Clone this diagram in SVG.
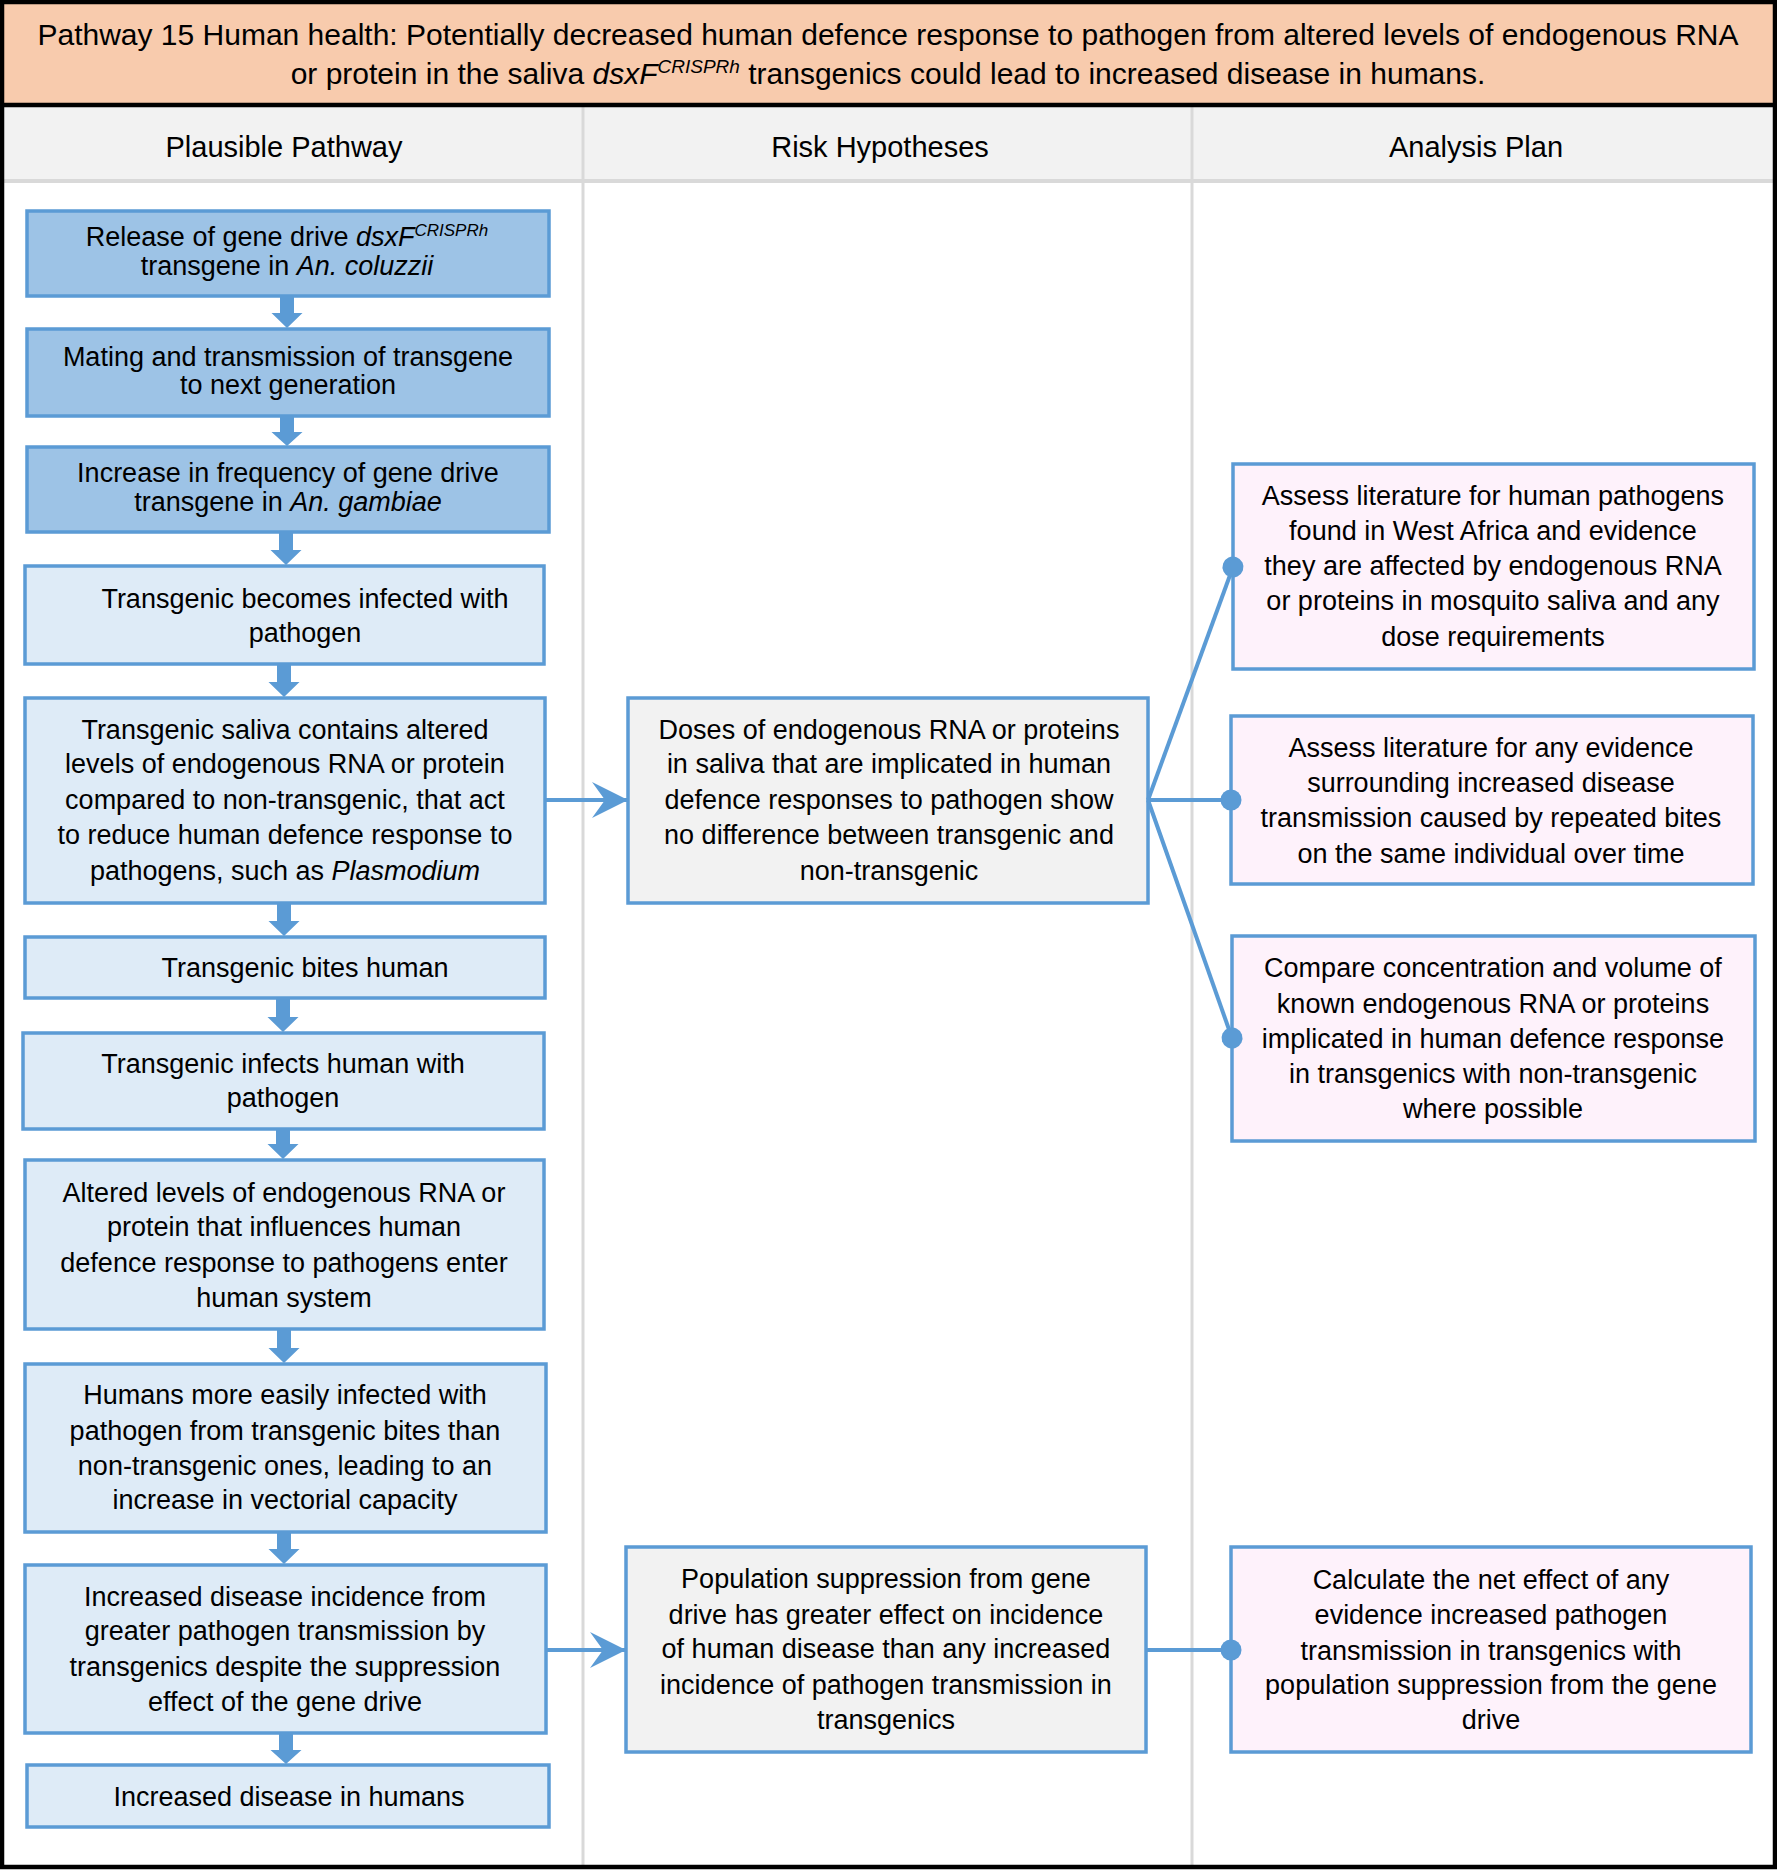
<svg xmlns="http://www.w3.org/2000/svg" width="1777" height="1870" viewBox="0 0 1777 1870">
<defs>
<style>
text{font-family:"Liberation Sans",Arial,sans-serif;fill:#000;}
.t{font-size:27px;text-anchor:middle;}
.hd{font-size:29px;text-anchor:middle;}
.ti{font-size:30px;text-anchor:middle;}
.i{font-style:italic;}
.dk{fill:#9DC3E6;stroke:#5B9BD5;stroke-width:3.5;}
.lt{fill:#DEEBF7;stroke:#5B9BD5;stroke-width:3.5;}
.gr{fill:#F2F2F2;stroke:#5B9BD5;stroke-width:3.5;}
.pk{fill:#FEF2FB;stroke:#5B9BD5;stroke-width:3.5;}
.ln{stroke:#5B9BD5;stroke-width:4;fill:none;}
.ba{fill:#5B9BD5;stroke:none;}
.grid{stroke:#D9D9D9;fill:none;}
</style>
<marker id="arr" markerUnits="userSpaceOnUse" markerWidth="36" markerHeight="36" refX="36" refY="18" orient="auto" viewBox="0 0 36 36">
<path d="M0,0 L36,18 L0,36 L13,18 Z" fill="#5B9BD5"/>
</marker>
<marker id="dot" markerUnits="userSpaceOnUse" markerWidth="24" markerHeight="24" refX="12" refY="12" orient="auto" viewBox="0 0 24 24">
<circle cx="12" cy="12" r="10.5" fill="#5B9BD5"/>
</marker>
</defs>

<g id="table">
<rect x="0" y="0" width="1777" height="1870" fill="#FFFFFF"/>
<rect x="0" y="0" width="1777" height="105" fill="#F8CBAD"/>
<rect x="0" y="107" width="1777" height="74" fill="#F2F2F2"/>
<line class="grid" x1="0" y1="181" x2="1777" y2="181" stroke-width="4"/>
<line class="grid" x1="583" y1="107" x2="583" y2="1866" stroke-width="3"/>
<line class="grid" x1="1192" y1="107" x2="1192" y2="1866" stroke-width="3"/>
<line x1="0" y1="105" x2="1777" y2="105" stroke="#000" stroke-width="4.5"/>
<rect x="2" y="2" width="1773" height="1865" fill="none" stroke="#000" stroke-width="4.5"/>
<text class="ti" x="888" y="45">Pathway 15 Human health: Potentially decreased human defence response to pathogen from altered levels of endogenous RNA</text>
<text class="ti" x="888" y="84">or protein in the saliva <tspan class="i">dsxF</tspan><tspan class="i" font-size="19" dy="-11">CRISPRh</tspan><tspan dy="11"> transgenics could lead to increased disease in humans.</tspan></text>
<text class="hd" x="284" y="157">Plausible Pathway</text>
<text class="hd" x="880" y="157">Risk Hypotheses</text>
<text class="hd" x="1476" y="157">Analysis Plan</text>
</g>

<g id="n1">
<rect class="dk" x="27" y="211" width="522" height="85"/>
<text class="t" x="287" y="246">Release of gene drive <tspan class="i">dsxF</tspan><tspan class="i" font-size="17" dy="-10">CRISPRh</tspan></text>
<text class="t" x="287" y="275">transgene in <tspan class="i">An. coluzzii</tspan></text>
</g>
<g id="n2">
<rect class="dk" x="27" y="329" width="522" height="87"/>
<text class="t" x="288" y="366">Mating and transmission of transgene</text>
<text class="t" x="288" y="394">to next generation</text>
</g>
<g id="n3">
<rect class="dk" x="27" y="447" width="522" height="85"/>
<text class="t" x="288" y="482">Increase in frequency of gene drive</text>
<text class="t" x="288" y="511">transgene in <tspan class="i">An. gambiae</tspan></text>
</g>
<g id="n4">
<rect class="lt" x="25" y="566" width="519" height="98"/>
<text class="t" x="305" y="608">Transgenic becomes infected with</text>
<text class="t" x="305" y="642">pathogen</text>
</g>
<g id="n5">
<rect class="lt" x="25" y="698" width="520" height="205"/>
<text class="t" x="285" y="739">Transgenic saliva contains altered</text>
<text class="t" x="285" y="773">levels of endogenous RNA or protein</text>
<text class="t" x="285" y="809">compared to non-transgenic, that act</text>
<text class="t" x="285" y="844">to reduce human defence response to</text>
<text class="t" x="285" y="880">pathogens, such as <tspan class="i">Plasmodium</tspan></text>
</g>
<g id="n6">
<rect class="lt" x="25" y="937" width="520" height="61"/>
<text class="t" x="305" y="977">Transgenic bites human</text>
</g>
<g id="n7">
<rect class="lt" x="23" y="1033" width="521" height="96"/>
<text class="t" x="283" y="1073">Transgenic infects human with</text>
<text class="t" x="283" y="1107">pathogen</text>
</g>
<g id="n8">
<rect class="lt" x="25" y="1160" width="519" height="169"/>
<text class="t" x="284" y="1202">Altered levels of endogenous RNA or</text>
<text class="t" x="284" y="1236">protein that influences human</text>
<text class="t" x="284" y="1272">defence response to pathogens enter</text>
<text class="t" x="284" y="1307">human system</text>
</g>
<g id="n9">
<rect class="lt" x="25" y="1364" width="521" height="168"/>
<text class="t" x="285" y="1404">Humans more easily infected with</text>
<text class="t" x="285" y="1440">pathogen from transgenic bites than</text>
<text class="t" x="285" y="1475">non-transgenic ones, leading to an</text>
<text class="t" x="285" y="1509">increase in vectorial capacity</text>
</g>
<g id="n10">
<rect class="lt" x="25" y="1565" width="521" height="168"/>
<text class="t" x="285" y="1606">Increased disease incidence from</text>
<text class="t" x="285" y="1640">greater pathogen transmission by</text>
<text class="t" x="285" y="1676">transgenics despite the suppression</text>
<text class="t" x="285" y="1711">effect of the gene drive</text>
</g>
<g id="n11">
<rect class="lt" x="27" y="1765" width="522" height="62"/>
<text class="t" x="289" y="1806">Increased disease in humans</text>
</g>

<g id="r1">
<rect class="gr" x="628" y="698" width="520" height="205"/>
<text class="t" x="889" y="739">Doses of endogenous RNA or proteins</text>
<text class="t" x="889" y="773">in saliva that are implicated in human</text>
<text class="t" x="889" y="809">defence responses to pathogen show</text>
<text class="t" x="889" y="844">no difference between transgenic and</text>
<text class="t" x="889" y="880">non-transgenic</text>
</g>
<g id="r2">
<rect class="gr" x="626" y="1547" width="520" height="205"/>
<text class="t" x="886" y="1588">Population suppression from gene</text>
<text class="t" x="886" y="1624">drive has greater effect on incidence</text>
<text class="t" x="886" y="1658">of human disease than any increased</text>
<text class="t" x="886" y="1694">incidence of pathogen transmission in</text>
<text class="t" x="886" y="1729">transgenics</text>
</g>

<g id="a1">
<rect class="pk" x="1233" y="464" width="521" height="205"/>
<text class="t" x="1493" y="505">Assess literature for human pathogens</text>
<text class="t" x="1493" y="540">found in West Africa and evidence</text>
<text class="t" x="1493" y="575">they are affected by endogenous RNA</text>
<text class="t" x="1493" y="610">or proteins in mosquito saliva and any</text>
<text class="t" x="1493" y="646">dose requirements</text>
</g>
<g id="a2">
<rect class="pk" x="1231" y="716" width="522" height="168"/>
<text class="t" x="1491" y="757">Assess literature for any evidence</text>
<text class="t" x="1491" y="792">surrounding increased disease</text>
<text class="t" x="1491" y="827">transmission caused by repeated bites</text>
<text class="t" x="1491" y="863">on the same individual over time</text>
</g>
<g id="a3">
<rect class="pk" x="1232" y="936" width="523" height="205"/>
<text class="t" x="1493" y="977">Compare concentration and volume of</text>
<text class="t" x="1493" y="1013">known endogenous RNA or proteins</text>
<text class="t" x="1493" y="1048">implicated in human defence response</text>
<text class="t" x="1493" y="1083">in transgenics with non-transgenic</text>
<text class="t" x="1493" y="1118">where possible</text>
</g>
<g id="a4">
<rect class="pk" x="1231" y="1547" width="520" height="205"/>
<text class="t" x="1491" y="1589">Calculate the net effect of any</text>
<text class="t" x="1491" y="1624">evidence increased pathogen</text>
<text class="t" x="1491" y="1660">transmission in transgenics with</text>
<text class="t" x="1491" y="1694">population suppression from the gene</text>
<text class="t" x="1491" y="1729">drive</text>
</g>

<g id="connectors">
<path class="ba" d="M280,296 H294 V313 H302.5 L287,328 L271.5,313 H280 Z"/>
<path class="ba" d="M280,416 H294 V432 H302.5 L287,446 L271.5,432 H280 Z"/>
<path class="ba" d="M279,532 H293 V550 H301.5 L286,565 L270.5,550 H279 Z"/>
<path class="ba" d="M277,664 H291 V682 H299.5 L284,697 L268.5,682 H277 Z"/>
<path class="ba" d="M277,903 H291 V921 H299.5 L284,936 L268.5,921 H277 Z"/>
<path class="ba" d="M276,998 H290 V1017 H298.5 L283,1032 L267.5,1017 H276 Z"/>
<path class="ba" d="M276,1129 H290 V1144 H298.5 L283,1159 L267.5,1144 H276 Z"/>
<path class="ba" d="M277,1329 H291 V1348 H299.5 L284,1363 L268.5,1348 H277 Z"/>
<path class="ba" d="M277,1532 H291 V1549 H299.5 L284,1564 L268.5,1549 H277 Z"/>
<path class="ba" d="M279,1733 H293 V1750 H301.5 L286,1764 L270.5,1750 H279 Z"/>
<path class="ln" d="M545,800 L628,800" marker-end="url(#arr)"/>
<path class="ln" d="M546,1650 L626,1650" marker-end="url(#arr)"/>
<path class="ln" d="M1148,800 L1233,567" marker-end="url(#dot)"/>
<path class="ln" d="M1148,800 L1231,800" marker-end="url(#dot)"/>
<path class="ln" d="M1148,800 L1232,1038" marker-end="url(#dot)"/>
<path class="ln" d="M1146,1650 L1231,1650" marker-end="url(#dot)"/>
</g>
</svg>
